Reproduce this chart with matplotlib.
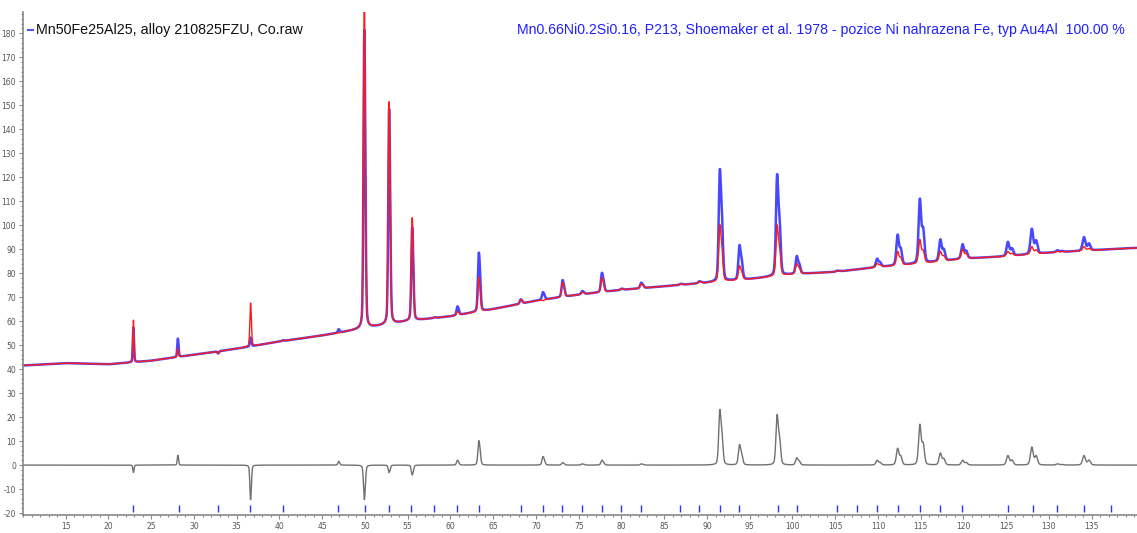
import numpy as np
import matplotlib
matplotlib.use("Agg")
import matplotlib.pyplot as plt
from matplotlib.ticker import MultipleLocator

# background level (2theta, counts)
bg_2theta = [10, 15, 20, 25, 30, 35, 40, 45, 50, 55, 60, 65, 70, 75, 80, 85,
             90, 95, 100, 105, 110, 115, 120, 125, 130, 135, 140]
bg_counts = [41.5, 42.5, 42, 43.5, 46, 48.5, 51.5, 54, 57, 60, 62, 65, 68.5, 71,
             73, 74.5, 76, 77.5, 79.5, 80.5, 82.5, 84, 86, 87, 88.5, 89.5, 90.5]

# reflections: position, observed top, calculated top
peak_pos = [22.9, 28.1, 32.8, 36.6, 40.4, 46.9, 49.9, 52.8, 55.5, 58.1, 60.8,
            63.3, 68.2, 70.8, 73.1, 75.4, 77.7, 80.0, 82.3, 86.9, 89.1, 91.5,
            93.8, 98.2, 100.5, 105.2, 107.5, 109.9, 112.3, 114.9, 117.3,
            119.9, 125.2, 128.0, 131.0, 134.1, 137.3]
obs_top = [57, 52.5, 46.5, 53, 52, 56.5, 178, 146, 98, 61.5, 66,
           88, 69, 72, 77, 72.5, 80, 73.5, 76, 75.5, 76.5, 123,
           91.5, 121, 87, 81, 81.5, 86, 96, 111, 94,
           92, 93, 98.5, 89.5, 95, 90]
calc_top = [60, 48.5, 46.5, 67, 52, 55, 192, 149, 102, 61.5, 64,
            78, 69, 68.5, 76, 72, 78, 73.5, 75.5, 75.5, 76.5, 100,
            83, 100, 84, 81, 81.5, 84, 89, 94, 89,
            90, 89, 91, 89, 91, 90]

# Bragg reflection markers
tick_pos = [22.9, 28.2, 32.8, 36.6, 40.4, 46.9, 50.0, 52.8, 55.4, 58.1, 60.8,
            63.3, 68.2, 70.8, 73.1, 75.4, 77.7, 80.0, 82.3, 86.9, 89.1, 91.5,
            93.7, 98.3, 100.5, 105.2, 107.5, 109.9, 112.4, 114.9, 117.3,
            119.8, 125.2, 128.1, 131.0, 134.1, 137.3]

title_left = "Mn50Fe25Al25, alloy 210825FZU, Co.raw"
title_right = ("Mn0.66Ni0.2Si0.16, P213, Shoemaker et al. 1978 - pozice Ni "
               "nahrazena Fe, typ Au4Al  100.00 %")

tt = np.arange(10, 140.3, 0.01)
bg = np.interp(tt, bg_2theta, bg_counts)


def shape(x, p, fwhm, eta=0.3):
    g = np.exp(-4 * np.log(2) * ((x - p) / fwhm) ** 2)
    lo = 1 / (1 + 4 * ((x - p) / fwhm) ** 2)
    return eta * lo + (1 - eta) * g


def profile(tops):
    y = bg.copy()
    for p, top in zip(peak_pos, tops):
        fwhm = 0.10 + 0.0022 * p
        d = 2 * np.degrees(np.tan(np.radians(p / 2)) * 0.00217)  # Ka2 offset
        # scale so that the Ka1+Ka2 sum tops out at the read value
        h = (top - np.interp(p, bg_2theta, bg_counts)) / (1 + 0.5 * shape(p, p + d, fwhm))
        y += h * shape(tt, p, fwhm)
        y += 0.5 * h * shape(tt, p + d, fwhm)
    return y


obs = profile(obs_top)
calc = profile(calc_top)
diff = obs - calc

plt.rcParams['axes.unicode_minus'] = False

fig = plt.figure(figsize=(11.37, 5.33), dpi=100)
ax = fig.add_axes([23 / 1137, 18 / 533, 1 - 23 / 1137, 503 / 533])

ax.plot(tt, obs, color='#1a1aff', lw=1.8, alpha=0.8)
ax.plot(tt, calc, color='#ff1a1a', lw=1.0)
ax.plot(tt, diff, color='#707070', lw=1.0)
ax.vlines(tick_pos, -19.6, -16.6, color='#3030ff', lw=1.0)

ax.set_xlim(10, 140.3)
ax.set_ylim(-20.8, 188.8)
ax.xaxis.set_major_locator(MultipleLocator(5))
ax.xaxis.set_minor_locator(MultipleLocator(1))
ax.yaxis.set_major_locator(MultipleLocator(10))
ax.yaxis.set_minor_locator(MultipleLocator(2))
ax.tick_params(which='both', colors='#888888', labelcolor='#555555',
               labelsize=5.5, width=0.8, pad=2)
ax.tick_params(which='major', length=3)
ax.tick_params(which='minor', length=1.5)
for s in ['top', 'right']:
    ax.spines[s].set_visible(False)
for s in ['left', 'bottom']:
    ax.spines[s].set_color('#888888')
    ax.spines[s].set_linewidth(1.2)
ax.set_xticks(list(range(15, 140, 5)))

fig.lines.append(plt.Line2D([28 / 1137, 33 / 1137], [1 - 30 / 533] * 2,
                            transform=fig.transFigure, color='#5050ff', lw=1.5))
fig.text(36 / 1137, 1 - 30 / 533, title_left, fontsize=10.3, color='#111111',
         va='center', ha='left', family='Liberation Sans')
fig.text(1125 / 1137, 1 - 30 / 533, title_right, fontsize=10.2, color='#2020ff',
         va='center', ha='right', family='Liberation Sans')

fig.savefig('out.png', dpi=100)
